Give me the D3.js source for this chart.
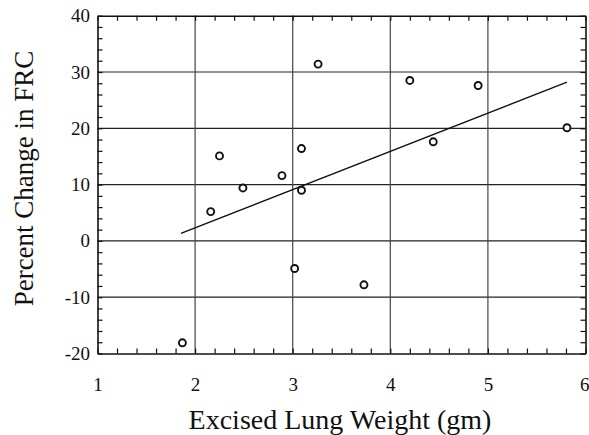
<!DOCTYPE html>
<html>
<head>
<meta charset="utf-8">
<script src="https://cdn.jsdelivr.net/npm/d3@7.9.0/dist/d3.min.js"></script>
<style>
  body { margin: 0; background: #fff; }
  svg text { font-family: "Liberation Serif", "Times New Roman", "DejaVu Serif", serif; fill: #111; }
</style>
</head>
<body>
<svg width="589" height="435"></svg>
<script>
// lung weight (gm) vs percent change in FRC
const weight = [3.26, 4.20, 4.90, 5.81, 4.44, 3.09, 2.25, 2.89, 2.49, 3.09, 2.16, 3.02, 1.87, 3.73];
const frcChange = [31.4, 28.5, 27.6, 20.1, 17.6, 16.4, 15.1, 11.6, 9.4, 9.0, 5.2, -4.9, -18.1, -7.8];

// fitted line endpoints
const fitX = [1.855, 5.81];
const fitY = [1.35, 28.2];

const xTicks = [1, 2, 3, 4, 5, 6];
const yTicks = [-20, -10, 0, 10, 20, 30, 40];

const svg = d3.select('svg');
const pl = 97.5, pr = 585.5, pt = 15.7, pb = 353.5;
const serif = '"Liberation Serif", "Times New Roman", serif';

const x = d3.scaleLinear().domain([1, 6]).range([pl, pr]);
const y = d3.scaleLinear().domain([-20, 40]).range([pb, pt]);

const fmt = d => (d < 0 ? '-' + Math.abs(d) : String(d));

// grid
svg.append('g')
    .selectAll('line')
    .data(yTicks.slice(1, -1))
    .join('line')
    .attr('x1', pl).attr('x2', pr)
    .attr('y1', d => y(d)).attr('y2', d => y(d))
    .attr('stroke', '#222').attr('stroke-width', 1.2);

svg.append('g')
    .selectAll('line')
    .data(xTicks.slice(1, -1))
    .join('line')
    .attr('x1', d => x(d)).attr('x2', d => x(d))
    .attr('y1', pt).attr('y2', pb)
    .attr('stroke', '#444').attr('stroke-width', 1.2);

// minor ticks, pointing in
const xMinor = d3.range(1, 6.001, 0.2);
const yMinor = d3.range(-20, 40.001, 2);

function tickAxis(axis, tr) {
    const g = svg.append('g').attr('transform', tr).call(axis);
    g.select('.domain').attr('stroke', '#111').attr('stroke-width', 1.6);
    g.selectAll('.tick line').attr('stroke', '#111').attr('stroke-width', 1.2);
    return g;
}
tickAxis(d3.axisBottom(x).tickValues(xMinor).tickSize(-5).tickSizeOuter(0).tickFormat(''), `translate(0,${pb})`);
tickAxis(d3.axisTop(x).tickValues(xMinor).tickSize(-5).tickSizeOuter(0).tickFormat(''), `translate(0,${pt})`);
tickAxis(d3.axisLeft(y).tickValues(yMinor).tickSize(-5).tickSizeOuter(0).tickFormat(''), `translate(${pl},0)`);
tickAxis(d3.axisRight(y).tickValues(yMinor).tickSize(-5).tickSizeOuter(0).tickFormat(''), `translate(${pr},0)`);

// tick labels
const xl = svg.append('g').attr('transform', `translate(0,${pb})`)
    .call(d3.axisBottom(x).tickValues(xTicks).tickSize(0).tickPadding(24).tickFormat(fmt));
xl.attr('font-family', serif).attr('font-size', 19);
xl.select('.domain').remove();
xl.selectAll('text').style('font-family', serif).style('font-size', '19px');
// last label sits against the right edge, as in the original
xl.selectAll('text').filter(d => d === 6).attr('text-anchor', 'end').attr('x', 589 - x(6));

const yl = svg.append('g').attr('transform', `translate(${pl},0)`)
    .call(d3.axisLeft(y).tickValues(yTicks).tickSize(0).tickPadding(7.5).tickFormat(fmt));
yl.attr('font-family', serif).attr('font-size', 19);
yl.select('.domain').remove();
yl.selectAll('text').style('font-family', serif).style('font-size', '19px');

// regression line
svg.append('path')
    .datum(d3.zip(fitX, fitY))
    .attr('d', d3.line().x(d => x(d[0])).y(d => y(d[1])))
    .attr('fill', 'none').attr('stroke', '#111').attr('stroke-width', 1.4);

// points
svg.append('g')
    .selectAll('circle')
    .data(d3.zip(weight, frcChange))
    .join('circle')
    .attr('cx', d => x(d[0])).attr('cy', d => y(d[1]))
    .attr('r', 3.5)
    .attr('fill', '#fff').attr('stroke', '#111').attr('stroke-width', 1.9);

// axis titles
svg.append('text')
    .attr('x', 340).attr('y', 428.5)
    .attr('text-anchor', 'middle')
    .style('font-size', '28px')
    .text('Excised Lung Weight (gm)');

svg.append('text')
    .attr('transform', 'translate(33,178.5) rotate(-90)')
    .attr('text-anchor', 'middle')
    .style('font-size', '27px')
    .text('Percent Change in FRC');
</script>
</body>
</html>
